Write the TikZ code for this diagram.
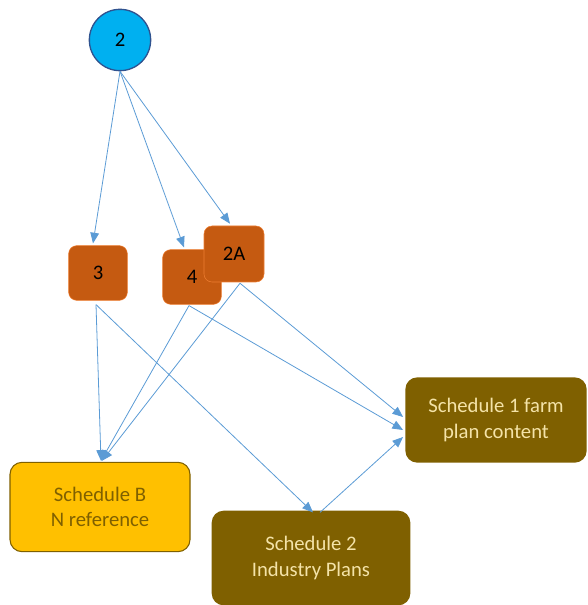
\documentclass[tikz,border=0pt]{standalone}
\usepackage{fontspec}
\setmainfont{Carlito}
\usetikzlibrary{calc}
\usetikzlibrary{arrows.meta}

\definecolor{circblue}{HTML}{00B0F0}
\definecolor{circedge}{HTML}{2F528F}
\definecolor{boxorange}{HTML}{C55A11}
\definecolor{edgeorange}{HTML}{ED7D31}
\definecolor{schgold}{HTML}{FFC000}
\definecolor{schbrown}{HTML}{7F6000}
\definecolor{schtext}{HTML}{F4E3A8}
\definecolor{linkblue}{HTML}{5B9BD5}

\begin{document}
\begin{tikzpicture}
% pixel grid, y going down
[
    x=0.75pt, y=-0.75pt,
    font=\fontsize{15.5}{19}\selectfont,
    link/.style={draw=linkblue, line width=0.6pt,
      -{Triangle[length=8pt,width=6.5pt]}},
    clause/.style={draw=edgeorange, fill=boxorange, rounded corners=6pt,
      minimum width=44pt, minimum height=41pt, inner sep=0pt},
    sched/.style={fill=schbrown, text=schtext, rounded corners=9pt,
      align=center, inner sep=0pt}
]

% frame
\useasboundingbox (0,0) rectangle (587,605);

% top circle
\node[circle, draw=circedge, line width=1pt, fill=circblue,
  minimum size=46pt, inner sep=0pt] (c2) at (120,40) {2};

% clause boxes
\node[clause] (b3) at (98,273) {3};
\node[clause] (b4) at (192,277) {4};
\node[clause, minimum width=45pt, minimum height=42pt] (b2A) at (234,254) {2A};

% schedules
\node[sched, fill=schgold, draw=schbrown, line width=0.8pt, text=schbrown,
  minimum width=135pt, minimum height=67pt] (schB) at (100,507)
  {Schedule B\\N reference};
\node[sched, minimum width=149pt, minimum height=71pt] (sch2) at (311,558)
  {Schedule 2\\Industry Plans};
\node[sched, minimum width=136pt, minimum height=64pt] (sch1) at (496,420)
  {Schedule 1 farm\\plan content};

% from the circle
\draw[link] (c2.south) -- ($(b3.north)+(-5,-2)$);
\draw[link] (c2.south) -- ($(b4.north)+(-8,-2)$);
\draw[link] (c2.south) -- ($(b2A.north)+(-4,-2)$);

% from the clause boxes
\draw[link] ($(b3.south)+(-2,4)$) -- ($(schB.north)+(1,-1)$);
\draw[link] ($(b3.south)+(-2,4)$) -- ($(sch2.north)+(2,2)$);
\draw[link] ($(b4.south)+(-3,1)$) -- ($(schB.north)+(1,-1)$);
\draw[link] ($(b4.south)+(-3,1)$) -- ($(sch1.west)+(-2,10)$);
\draw[link] ($(b2A.south)+(6,1)$) -- ($(schB.north)+(2,-1)$);
\draw[link] ($(b2A.south)+(6,1)$) -- ($(sch1.west)+(-2,-3)$);

% schedule 2 to schedule 1
\draw[link] ($(sch2.north)+(9,2)$) -- ($(sch1.west)+(-2,17)$);

\end{tikzpicture}
\end{document}
